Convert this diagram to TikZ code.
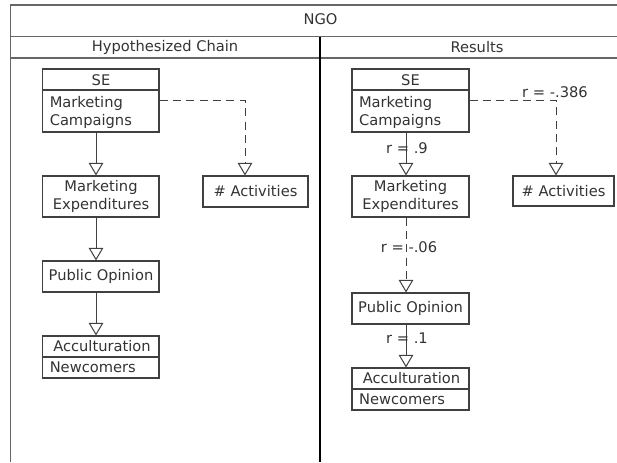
\documentclass[tikz,border=0pt]{standalone}
\usepackage{fontspec}
\setmainfont{DejaVu Sans}
\usetikzlibrary{arrows.meta,fit}
\begin{document}
\begin{tikzpicture}[x=0.75pt,y=-0.75pt,
  frame/.style={draw=black!60, line width=0.9pt},
  divider/.style={draw=black, line width=1.6pt},
  box/.style={draw=black!75, line width=0.8pt, rectangle, inner sep=0pt},
  sepline/.style={draw=black!75, line width=0.8pt},
  txt/.style={text=black!80, font=\fontsize{11}{13.7}\selectfont, inner sep=0pt},
  conn/.style={draw=black!75, line width=0.75pt, -{Triangle[open,length=9.5pt,width=11pt,fill=white]}},
  dconn/.style={conn, dash pattern=on 6pt off 4pt}]
\useasboundingbox (0,0) rectangle (617,462);
% frame
\draw[frame] (617,5) -- (10.5,5) -- (10.5,462);
\draw[frame] (10.5,36.5) -- (617,36.5);
\draw[frame] (10.5,58) -- (617,58);
\draw[divider] (320,36.5) -- (320,462);
\node[txt] (ngo) at (320.5,19) {NGO};
\node[txt] (hyp) at (165,47.5) {Hypothesized Chain};
\node[txt] (res) at (477,47.5) {Results};

% ---------- left column ----------
\node[box, fit={(42.7,69) (159,132)}] (se1) {};
\draw[sepline] (42.7,90) -- (159,90);
\node[txt] (se1t) at (101,80) {SE};
\node[txt, align=left, anchor=west] (se1b) at (49.5,112.5) {Marketing\\Campaigns};

\node[box, fit={(42.7,176) (159,217)}] (me1) {};
\node[txt, align=center] (me1t) at (101,196.5) {Marketing\\Expenditures};

\node[box, fit={(203,176) (308,207)}] (act1) {};
\node[txt] (act1t) at (255.5,191.5) {\# Activities};

\node[box, fit={(42.7,261) (159,292)}] (po1) {};
\node[txt] (po1t) at (101,276.5) {Public Opinion};

\node[box, fit={(42.7,336) (159,378)}] (ac1) {};
\draw[sepline] (42.7,357) -- (159,357);
\node[txt] (ac1t) at (102,346.5) {Acculturation};
\node[txt, anchor=west] (ac1b) at (49.5,367.5) {Newcomers};

\coordinate (ax1) at (96,0);
\coordinate (d1) at (245,100.5);
\draw[conn] (se1.south -| ax1) -- (me1.north -| ax1);
\draw[conn] (me1.south -| ax1) -- (po1.north -| ax1);
\draw[conn] (po1.south -| ax1) -- (ac1.north -| ax1);
\draw[dconn] (se1.east) -- (d1) -- (d1 |- act1.north);

% ---------- right column ----------
\node[box, fit={(352,69) (469,132)}] (se2) {};
\draw[sepline] (352,90) -- (469,90);
\node[txt] (se2t) at (410.5,80) {SE};
\node[txt, align=left, anchor=west] (se2b) at (358.8,112.5) {Marketing\\Campaigns};

\node[box, fit={(352,176) (469,217)}] (me2) {};
\node[txt, align=center] (me2t) at (410.5,196.5) {Marketing\\Expenditures};

\node[box, fit={(513,176) (614,206)}] (act2) {};
\node[txt] (act2t) at (563.5,191) {\# Activities};

\node[box, fit={(352,293) (469,324)}] (po2) {};
\node[txt] (po2t) at (410.5,308.5) {Public Opinion};

\node[box, fit={(352,368) (469,410)}] (ac2) {};
\draw[sepline] (352,389) -- (469,389);
\node[txt] (ac2t) at (411.5,378.5) {Acculturation};
\node[txt, anchor=west] (ac2b) at (358.8,399.5) {Newcomers};

\coordinate (ax2) at (406,0);
\coordinate (d2) at (556,100.5);
\draw[conn] (se2.south -| ax2) -- (me2.north -| ax2);
\draw[dconn] (me2.south -| ax2) -- (po2.north -| ax2);
\draw[conn] (po2.south -| ax2) -- (ac2.north -| ax2);
\draw[dconn] (se2.east) -- (d2) -- (d2 |- act2.north);

\node[txt] (l1) at (407,148) {r = .9};
\node[txt] (l2) at (555,92) {r = -.386};
\node[txt] (l3) at (409,247) {r = -.06};
\node[txt] (l4) at (407,338) {r = .1};
\end{tikzpicture}
\end{document}
